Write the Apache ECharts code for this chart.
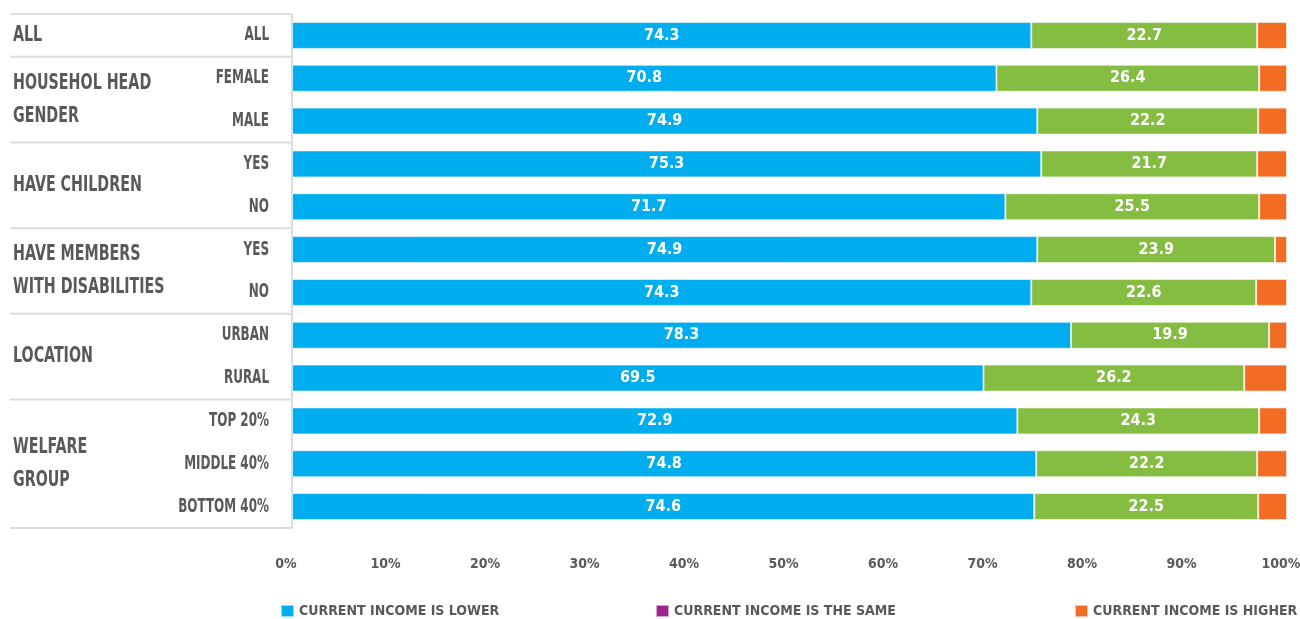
<!DOCTYPE html>
<html>
<head>
<meta charset="utf-8">
<script src="https://cdn.jsdelivr.net/npm/echarts@6/dist/echarts.min.js"></script>
<style>
html,body{margin:0;padding:0;background:#fff;}
#main{width:1300px;height:619px;}
</style>
</head>
<body>
<div id="main"></div>
<script>
const subLabels = ['ALL','FEMALE','MALE','YES','NO','YES','NO','URBAN','RURAL','TOP 20%','MIDDLE 40%','BOTTOM 40%'];
const groupLabels = ['ALL','HOUSEHOL HEAD\nGENDER','HAVE CHILDREN','HAVE MEMBERS\nWITH DISABILITIES','LOCATION','WELFARE\nGROUP'];
const groupSizes = [1,2,2,2,2,3];
const seriesNames = ['CURRENT INCOME IS LOWER','CURRENT INCOME IS THE SAME','CURRENT INCOME IS HIGHER'];
const lowerVals = [74.3,70.8,74.9,75.3,71.7,74.9,74.3,78.3,69.5,72.9,74.8,74.6];
const sameVals = [22.7,26.4,22.2,21.7,25.5,23.9,22.6,19.9,26.2,24.3,22.2,22.5];
const higherVals = [3.0,2.8,2.9,3.0,2.8,1.2,3.1,1.8,4.3,2.8,3.0,2.9];
const xTicks = [0,10,20,30,40,50,60,70,80,90,100];

const FONT = '"DejaVu Sans Condensed","Liberation Sans Narrow",sans-serif';
const TXT = '#58595b';
const BLUE = '#00aeef', GREEN = '#84bd41', ORANGE = '#f36c23', PURPLE = '#9e258f';

const chart = echarts.init(document.getElementById('main'), null, {renderer:'canvas'});

function barSeries(name, data, color, showLabel){
  return {
    name: name, type: 'bar', stack: 'total', data: data, barWidth: 27,
    itemStyle: {color: color, borderColor: 'rgba(255,255,255,0.6)', borderWidth: 1},
    label: {show: showLabel, position: 'inside', color: '#fff', fontFamily: FONT, fontWeight: 'bold', fontSize: 16,
      formatter: p => p.value.toFixed(1)},
    emphasis: {disabled: true}
  };
}

function legendAt(left, name, color){
  const item = {name: name};
  if (color) item.itemStyle = {color: color};
  return {
    data: [item], left: left, top: 604, padding: 0, itemWidth: 13, itemHeight: 12, selectedMode: false,
    icon: 'rect',
    textStyle: {color: TXT, fontFamily: FONT, fontWeight: 'bold', fontSize: 14}
  };
}

const option = {
  animation: false,
  backgroundColor: '#fff',
  grid: {left: 292, right: 13, top: 14, bottom: 91, containLabel: false, outerBoundsMode: 'none'},
  xAxis: {
    type: 'value', min: xTicks[0], max: xTicks[xTicks.length-1], interval: 10,
    axisLine: {show: false}, axisTick: {show: false}, splitLine: {show: false},
    axisLabel: {formatter: '{value}%', color: TXT, fontFamily: FONT, fontWeight: 'bold', fontSize: 14, margin: 29, padding: [0,12,0,0]}
  },
  yAxis: {
    type: 'category', inverse: true, data: subLabels,
    axisTick: {show: false},
    axisLine: {show: true, lineStyle: {color: '#dcdcdc', width: 2}},
    axisLabel: {show: false}
  },
  legend: [
    legendAt(280, seriesNames[0]),
    legendAt(655, seriesNames[1], PURPLE),
    legendAt(1074, seriesNames[2])
  ],
  series: [
    barSeries(seriesNames[0], lowerVals, BLUE, true),
    barSeries(seriesNames[1], sameVals, GREEN, true),
    barSeries(seriesNames[2], higherVals, ORANGE, false)
  ]
};
chart.setOption(option);

// table text and separators, positioned from the y axis scale
const graphics = [];
const lineStyle = {stroke: '#dcdcdc', lineWidth: 2};
subLabels.forEach((lab, i) => {
  const y = chart.convertToPixel({yAxisIndex: 0}, i);
  graphics.push({
    type: 'text', silent: true, x: 269, y: y, scaleX: 0.7,
    style: {text: lab, fill: TXT, font: 'bold 19px ' + FONT, verticalAlign: 'middle', align: 'right'}
  });
});
const c0 = chart.convertToPixel({yAxisIndex: 0}, 0);
const band = chart.convertToPixel({yAxisIndex: 0}, 1) - c0;
let start = 0;
graphics.push({type: 'line', shape: {x1: 10, y1: c0 - band/2, x2: 291, y2: c0 - band/2}, style: lineStyle, silent: true});
groupSizes.forEach((n, g) => {
  const top = c0 - band/2 + start*band;
  const bottom = top + n*band;
  graphics.push({type: 'line', shape: {x1: 10, y1: bottom, x2: 291, y2: bottom}, style: lineStyle, silent: true});
  graphics.push({
    type: 'text', silent: true,
    x: 13, y: (top + bottom)/2, scaleX: 0.72,
    style: {text: groupLabels[g], fill: TXT, font: 'bold 22px ' + FONT, lineHeight: 33, verticalAlign: 'middle', align: 'left'}
  });
  start += n;
});
chart.setOption({graphic: graphics});
</script>
</body>
</html>
